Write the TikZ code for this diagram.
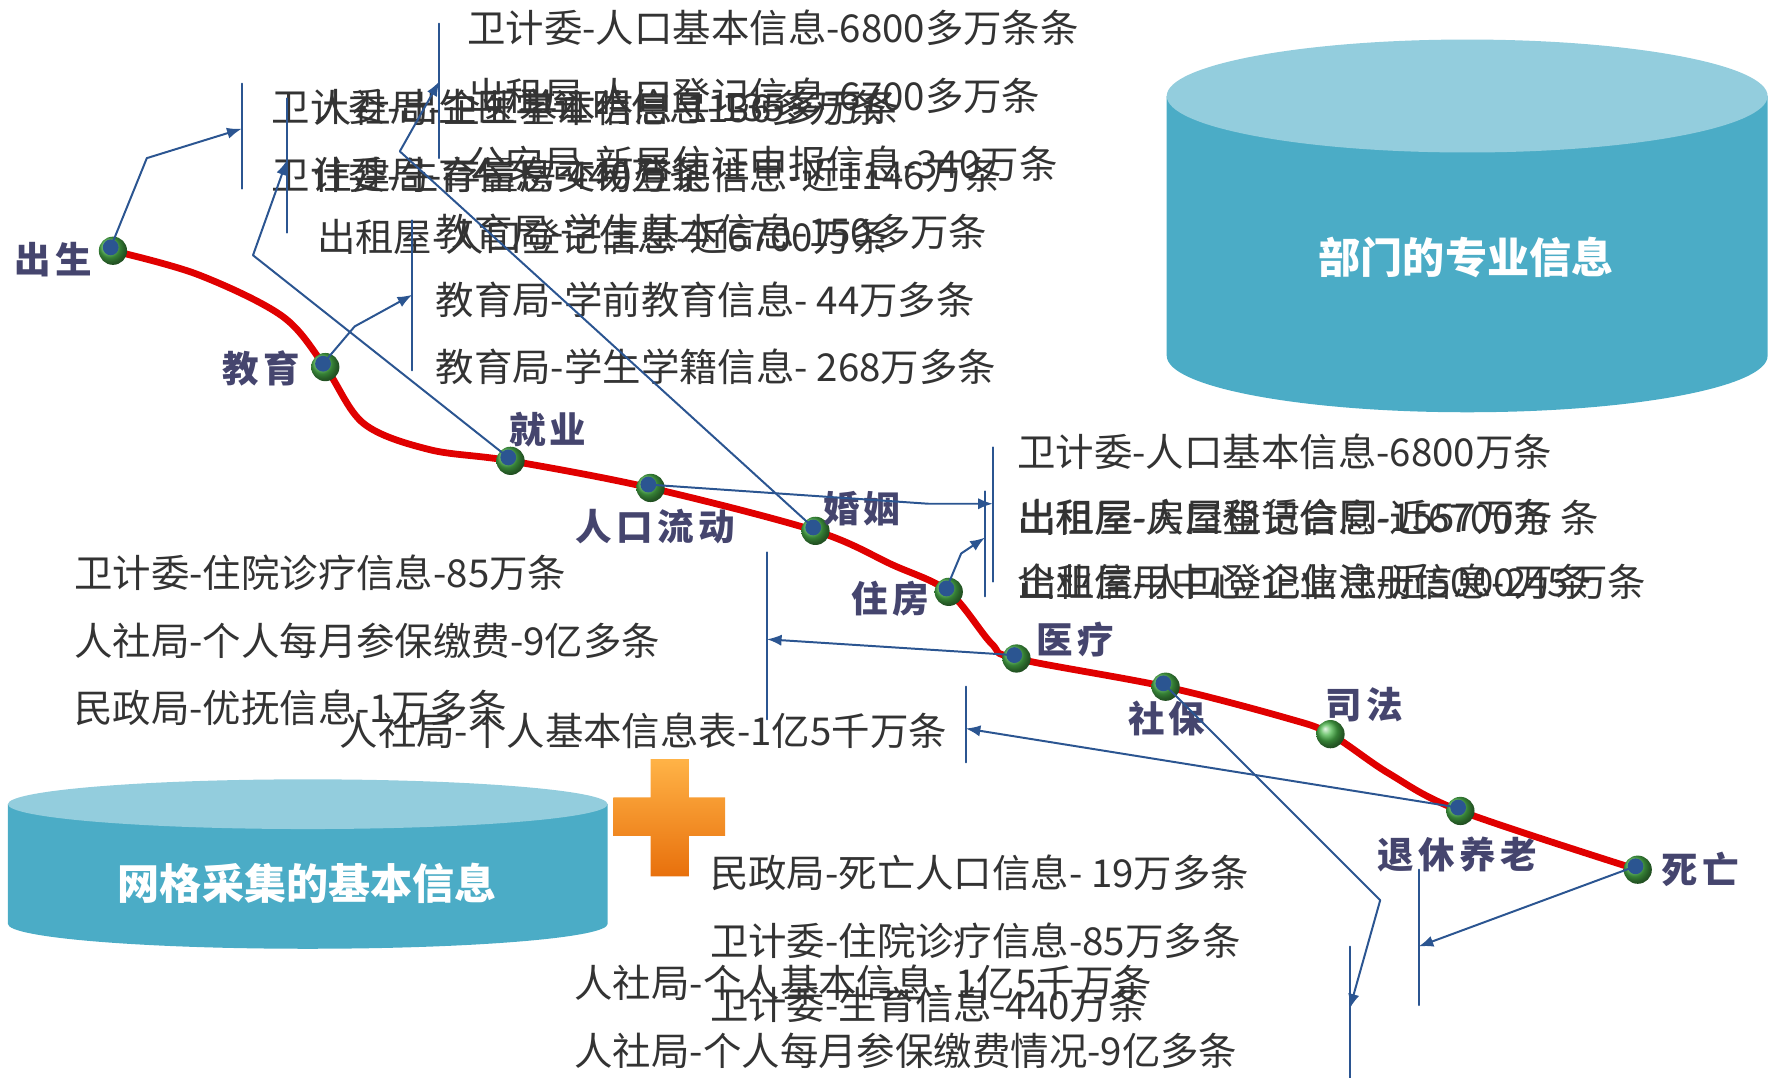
\documentclass[tikz,border=0pt]{standalone}
\usepackage{fontspec}
\setmainfont{Noto Sans CJK SC}
\newfontfamily\stagefont[LetterSpace=12.0]{Noto Sans CJK SC}
\usetikzlibrary{arrows.meta}
\definecolor{lineblue}{HTML}{2B5591}
\definecolor{cylbody}{HTML}{4BACC6}
\definecolor{cyltop}{HTML}{93CDDD}
\definecolor{stagecol}{HTML}{45456E}
\definecolor{curvered}{HTML}{E00000}
\definecolor{plustop}{HTML}{FFB347}
\definecolor{plusbot}{HTML}{E8700C}
\begin{document}
\begin{tikzpicture}[x=0.1mm, y=-0.1mm, >={Latex[length=1.3mm,width=1mm]}, line join=round, line cap=round,
	info/.style={anchor=west, inner sep=0pt, font=\fontsize{9.68}{11}\selectfont, text=black!80},
	stage/.style={inner sep=0pt, font=\fontsize{9.2}{11}\stagefont\bfseries, text=stagecol},
	cyltext/.style={inner sep=0pt, font=\fontsize{10.6}{12}\selectfont\bfseries, text=white},
	link/.style={draw=lineblue, line width=0.5pt},
	ball/.style={circle, inner sep=0pt, minimum size=2.5mm, shade, shading=ball, ball color=green!60!black!70},
	dot/.style={circle, inner sep=0pt, minimum size=1.4mm, fill=lineblue}]
	\useasboundingbox (0,0) rectangle (1568,954);
	% cylinders and plus
	\fill[cylbody] (1033,85) -- (1033,315) arc[start angle=180, end angle=0, x radius=266, y radius=50] -- (1565,85) -- cycle;
	\fill[cyltop] (1299,85) ellipse [x radius=266, y radius=50];
	\node[cyltext] (zhuanye) at (1298,228) {部门的专业信息};
	\fill[cylbody] (7,712) -- (7,818) arc[start angle=180, end angle=0, x radius=265.5, y radius=22] -- (538,712) -- cycle;
	\fill[cyltop] (272.5,712) ellipse [x radius=265.5, y radius=22];
	\node[cyltext] (wangge) at (272,782) {网格采集的基本信息};
	\shade[top color=plustop, bottom color=plusbot] (576,672) -- (610,672) -- (610,706) -- (642,706) -- (642,740) -- (610,740)
		-- (610,776) -- (576,776) -- (576,740) -- (543,740) -- (543,706) -- (576,706) -- cycle;
	% life line
	\foreach \n/\x/\y in {cs/100/222, jy/288/325, zy/452/408, ld/576/432, hy/722/470, zf/840/524,
		yl/900/583, sb/1032/608, sf/1178/650, yl2/1293/718, sw/1450/770}
		\coordinate (\n) at (\x,\y);
	\draw[curvered, line width=0.6mm] plot[smooth, tension=0.55] coordinates {(cs) (175,243) (250,280) (jy) (322,375)
		(380,398) (zy) (ld) (hy) (790,500) (zf) (878,570) (yl) (sb) (1140,636) (sf) (1230,685) (yl2) (sw)};
	\foreach \n in {cs,jy,zy,ld,hy,zf,yl,sb,sf,yl2,sw}
		\node[ball] (\n-b) at (\n) {};
	\foreach \n in {cs,jy,zy,ld,hy,zf,yl,sb,yl2,sw}
		\node[dot] (\n-d) at ([shift={(-2,-3)}]\n) {};
	\node[stage] (cs-l) at (47,230) {出生};
	\node[stage] (jy-l) at (231,326) {教育};
	\node[stage] (zy-l) at (485,380) {就业};
	\node[stage] (ld-l) at (580,466) {人口流动};
	\node[stage] (hy-l) at (763,450) {婚姻};
	\node[stage] (zf-l) at (788,530) {住房};
	\node[stage] (yl-l) at (952,566) {医疗};
	\node[stage] (sb-l) at (1033,636) {社保};
	\node[stage] (sf-l) at (1208,624) {司法};
	\node[stage] (yl2-l) at (1290,757) {退休养老};
	\node[stage] (sw-l) at (1505,770) {死亡};
	% department texts
	\node[info] (hy-1) at (413,25) {卫计委-人口基本信息-6800多万条条};
	\node[info] (hy-2) at (413,85) {出租屋-人口登记信息-6700多万条};
	\node[info] (hy-3) at (413,145) {公安局-新居住证申报信息-340万条};
	\node[info] (cs-1) at (240,95) {卫计委-出生医学证明信息-135多万条};
	\node[info] (cs-2) at (240,155) {卫计委-生育信息-440万条};
	\node[info] (zy-1) at (277,95) {人社局-企业基本信息-1136多万条};
	\node[info] (zy-2) at (277,155) {住建局-存量房交易登记信息-近1146万条};
	\node[info] (zy-3) at (280,210) {出租屋-人口登记信息-近6700万条};
	\node[info] (jy-1) at (385,205) {教育局-学生基本信息-150多万条};
	\node[info] (jy-2) at (385,265) {教育局-学前教育信息- 44万多条};
	\node[info] (jy-3) at (385,325) {教育局-学生学籍信息- 268万多条};
	\node[info] (ld-1) at (900,400) {卫计委-人口基本信息-6800万条};
	\node[info] (ld-2) at (900,458) {出租屋-人口登记信息-近6700万 条};
	\node[info] (zf-1) at (901,458) {出租屋-房屋租赁合同-1557万条};
	\node[info] (ld-3) at (900,515) {企业信用中心-企业注册信息-245万条};
	\node[info] (zf-2) at (901,515) {出租屋-人口登记信息-近5000万条};
	\node[info] (yl-1) at (65,507) {卫计委-住院诊疗信息-85万条};
	\node[info] (yl-2) at (65,567) {人社局-个人每月参保缴费-9亿多条};
	\node[info] (yl-3) at (65,627) {民政局-优抚信息-1万多条};
	\node[info] (yl2-1) at (300,647) {人社局-个人基本信息表-1亿5千万条};
	\node[info] (sw-1) at (628,773) {民政局-死亡人口信息- 19万多条};
	\node[info] (sw-2) at (628,833) {卫计委-住院诊疗信息-85万多条};
	\node[info] (sw-3) at (628,890) {卫计委-生育信息-440万条};
	\node[info] (sb-1) at (508,870) {人社局-个人基本信息- 1亿5千万条};
	\node[info] (sb-2) at (508,930) {人社局-个人每月参保缴费情况-9亿多条};
	% brackets
	\foreach \n/\x/\ya/\yb in {cs/214/74/167, zy/254/87/206, hy/389/21/140, jy/365/195/328, ld/879/396/515,
		zf/872/435/528, yl/679/489/637, yl2/855/608/675, sb/1195/838/954, sw/1256/770/890}{
		\coordinate (\n-t) at (\x,\ya);
		\coordinate (\n-u) at (\x,\yb);
		\draw[link] (\n-t) -- (\n-u);
	}
	% connectors
	\coordinate (cs-k) at (130,140);   \coordinate (cs-a) at (214,114);
	\coordinate (jy-k) at (314,289);   \coordinate (jy-a) at (365,261);
	\coordinate (zy-k) at (224,226);   \coordinate (zy-a) at (254,142);
	\coordinate (hy-k) at (354,134);   \coordinate (hy-a) at (389,72);
	\coordinate (ld-k) at (822,446);   \coordinate (ld-a) at (879,446);
	\coordinate (zf-k) at (851,490);   \coordinate (zf-a) at (872,476);
	\coordinate (yl-a) at (679,566);
	\coordinate (yl2-a) at (855,645);
	\coordinate (sb-k) at (1222,797);  \coordinate (sb-a) at (1195,893);
	\coordinate (sw-a) at (1256,838);
	\foreach \n in {cs,jy,zy,hy,ld,zf,sb}
		\draw[link,->] (\n-d.center) -- (\n-k) -- (\n-a);
	\foreach \n in {yl,yl2,sw}
		\draw[link,->] (\n-d.center) -- (\n-a);
\end{tikzpicture}
\end{document}
